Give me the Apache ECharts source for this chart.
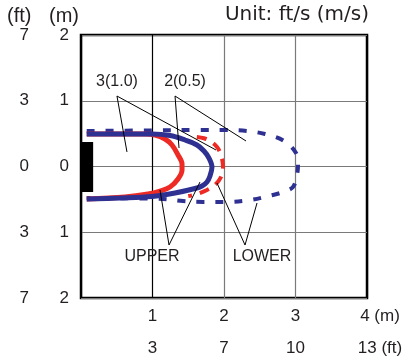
<!DOCTYPE html>
<html><head><meta charset="utf-8">
<script src="https://cdn.jsdelivr.net/npm/echarts@6/dist/echarts.min.js"></script>
<style>html,body{margin:0;padding:0;background:#fff}#c{width:410px;height:363px}</style>
</head><body><div id="c"></div>
<script>
// Axis tick labels
const xTicksM = ['', '1', '2', '3', '4 (m)'];
const xTicksFt = ['', '3', '7', '10', '13 (ft)'];
const yTicksM = ['2', '1', '0', '1', '2'];      // for -2,-1,0,1,2
const yTicksFt = ['7', '3', '0', '3', '7'];
const yValues = [-2, -1, 0, 1, 2];

// Throw patterns (x in m, y in m)
const upper3 = [[0.08,0.494],[0.99,0.494],[1.245,0.471],[1.455,0.403],[1.622,0.327],[1.72,0.236],[1.79,0.129],[1.832,-0.008],[1.804,-0.144],[1.762,-0.236],[1.692,-0.297],[1.594,-0.335],[1.315,-0.403],[0.993,-0.456],[0.545,-0.479],[0.08,-0.494]];
const upper2 = [[0.08,0.494],[0.895,0.494],[1.035,0.479],[1.175,0.418],[1.273,0.327],[1.357,0.175],[1.413,0.038],[1.413,-0.053],[1.357,-0.19],[1.245,-0.312],[1.105,-0.373],[0.937,-0.418],[0.615,-0.464],[0.08,-0.494]];
const lower3 = [[0.08,0.54],[0.965,0.548],[1.664,0.555],[2.014,0.555],[2.322,0.54],[2.573,0.494],[2.839,0.388],[3.007,0.205],[3.035,0.023],[3.021,-0.129],[2.965,-0.312],[2.825,-0.388],[2.685,-0.433],[2.364,-0.51],[2.042,-0.54],[1.706,-0.54],[1.427,-0.525],[1.147,-0.494],[0.08,-0.479]];
const lower2 = [[1.62,0.45],[1.72,0.43],[1.804,0.388],[1.902,0.297],[1.958,0.175],[1.986,-0.008],[1.958,-0.16],[1.874,-0.281],[1.762,-0.357],[1.62,-0.42],[1.5,-0.45]];

// Unit box (outlet)
const unitBox = [[0, 0.373], [0.17, -0.388]];

// Annotations: label text, label position, leader V (end1, apex, end2)
const annoText = ['3(1.0)', '2(0.5)', 'UPPER', 'LOWER'];
const annoPos = [[0.503,1.285],[1.455,1.285],[0.993,-1.376],[2.531,-1.376]];
const annoLines = [
  [[0.643,0.221],[0.503,1.072],[1.888,0.251]],
  [[1.371,0.281],[1.315,1.072],[2.308,0.388]],
  [[1.105,-0.357],[1.231,-1.194],[1.664,-0.236]],
  [[1.902,-0.251],[2.294,-1.194],[2.462,-0.555]]
];

const BLUE = '#2e3192', RED = '#ee2a24';
const FONT = 'Liberation Sans, Arial, sans-serif';
const TXT = '#231f20';
const chart = echarts.init(document.getElementById('c'), null, {renderer: 'canvas'});

const series = [
  {type:'line', data: lower3, smooth: 0.35, symbol:'none', z: 3,
   lineStyle:{color: BLUE, width: 4, type: [8, 11]},
   markArea: {silent: true, itemStyle: {color: '#000', opacity: 1},
     data: [[{coord: unitBox[0]}, {coord: unitBox[1]}]]}},
  {type:'line', data: lower2, smooth: 0.35, symbol:'none', z: 4,
   lineStyle:{color: RED, width: 4, type: [10, 8]}},
  {type:'line', data: upper2, smooth: 0.35, symbol:'none', z: 5,
   lineStyle:{color: RED, width: 5}},
  {type:'line', data: upper3, smooth: 0.35, symbol:'none', z: 6,
   lineStyle:{color: BLUE, width: 5}}
];
annoLines.forEach(v => series.push({type:'line', data: v, symbol:'none', z: 7,
  lineStyle:{color:'#000', width: 1}}));
series.push({type:'scatter', symbolSize: 0, z: 8, itemStyle: {opacity: 1},
  data: annoPos.map((p, i) => ({value: p, name: annoText[i]})),
  label: {show: true, position: 'inside', formatter: p => p.name, opacity: 1,
    fontFamily: FONT, fontSize: 16, color: TXT}});

chart.setOption({
  animation: false,
  grid: {left: 81, top: 35, width: 286, height: 263, show: true,
    borderColor: '#000', borderWidth: 2.5, backgroundColor: 'transparent'},
  xAxis: [
    {type:'value', min: 0, max: 4, interval: 1, position:'bottom',
     axisLine:{show:false}, axisTick:{show:false},
     splitLine:{show:true, lineStyle:{color:['#000','#000','#7a7a7a','#7a7a7a','#000'], width: 1.2}},
     axisLabel:{margin: 10, fontFamily: FONT, fontSize: 17, color: TXT,
       formatter: v => { const s = xTicksM[Math.round(v)]; return v === 4 ? '{e|' + s + '}' : s; },
       rich: {e: {padding: [0,0,0,26], fontFamily: FONT, fontSize: 17, color: TXT}}}},
    {type:'value', min: 0, max: 4, interval: 1, position:'bottom', offset: 32,
     axisLine:{show:false}, axisTick:{show:false}, splitLine:{show:false},
     axisLabel:{margin: 10, fontFamily: FONT, fontSize: 17, color: TXT,
       formatter: v => { const s = xTicksFt[Math.round(v)]; return v === 4 ? '{e|' + s + '}' : s; },
       rich: {e: {padding: [0,0,0,26], fontFamily: FONT, fontSize: 17, color: TXT}}}}
  ],
  yAxis: [
    {type:'value', min: -2, max: 2, interval: 1, position:'left',
     axisLine:{show:false}, axisTick:{show:false},
     splitLine:{show:true, lineStyle:{color:'#7a7a7a', width: 1.2}},
     axisLabel:{margin: 12, fontFamily: FONT, fontSize: 17, color: TXT,
       formatter: v => yTicksM[yValues.indexOf(Math.round(v))]}},
    {type:'value', min: -2, max: 2, interval: 1, position:'left', offset: 40,
     axisLine:{show:false}, axisTick:{show:false}, splitLine:{show:false},
     axisLabel:{margin: 12, fontFamily: FONT, fontSize: 17, color: TXT,
       formatter: v => yTicksFt[yValues.indexOf(Math.round(v))]}}
  ],
  graphic: [
    {type:'text', left: 7, top: 6, style:{text:'(ft)', fontFamily: FONT, fontSize: 20, fill: TXT}},
    {type:'text', left: 49, top: 6, style:{text:'(m)', fontFamily: FONT, fontSize: 20, fill: TXT}},
    {type:'text', right: 41, top: 5, style:{text:'Unit: ft/s (m/s)', fontFamily: 'DejaVu Sans, sans-serif', fontSize: 20, fill: TXT}}
  ],
  series: series
});
</script></body></html>
